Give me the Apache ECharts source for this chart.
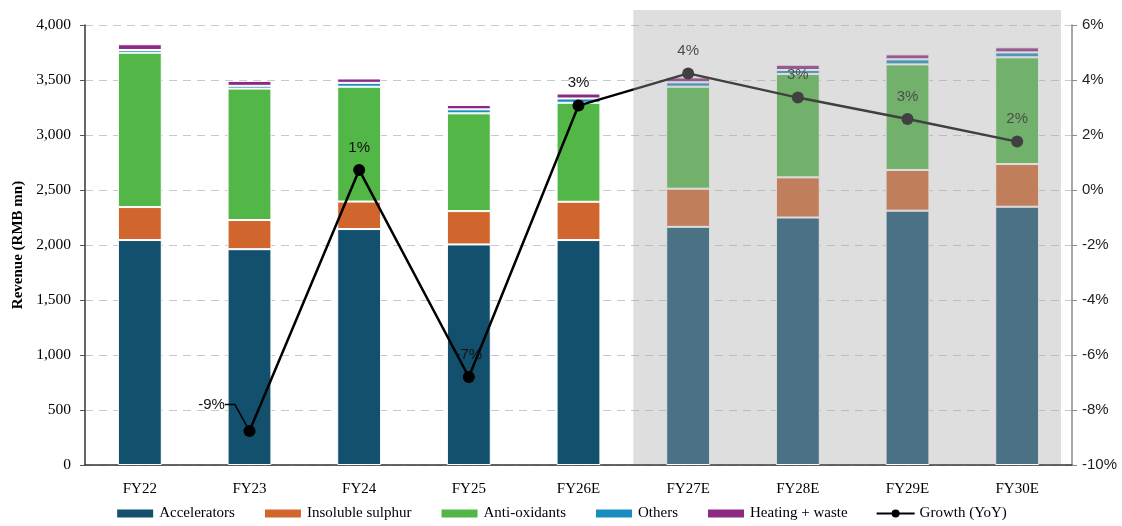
<!DOCTYPE html>
<html>
<head>
<meta charset="utf-8">
<script src="https://cdn.jsdelivr.net/npm/echarts@6/dist/echarts.min.js"></script>
<style>
  html, body { margin: 0; padding: 0; background: #fff; }
  #chart { width: 1122px; height: 526px; }
</style>
</head>
<body>
<div id="chart"></div>
<script>
// Revenue by segment (RMB mn) and year-on-year growth
const categories = ['FY22', 'FY23', 'FY24', 'FY25', 'FY26E', 'FY27E', 'FY28E', 'FY29E', 'FY30E'];
const accelerators = [2045, 1962, 2145, 2005, 2045, 2165, 2250, 2312, 2348];
const insolubleSulphur = [300, 265, 250, 303, 348, 347, 365, 370, 388];
const antiOxidants = [1403, 1195, 1044, 889, 900, 927, 940, 960, 970];
const others = [25, 25, 35, 36, 39, 40, 36, 46, 45];
const heatingWaste = [52, 45, 40, 40, 45, 45, 48, 45, 46];
const growth = [null, -8.76, 0.73, -6.8, 3.07, 4.24, 3.36, 2.58, 1.76];
const leftTicks = { min: 0, max: 4000, interval: 500 };
const rightTicks = { min: -10, max: 6, interval: 2 };
const forecastStart = 'FY27E';

const serif = '"Liberation Serif", "Times New Roman", serif';
const sans = '"Liberation Sans", Arial, sans-serif';

const chart = echarts.init(document.getElementById('chart'));

const barStyle = (color) => ({ color: color, borderColor: '#ffffff', borderWidth: 1 });
const barSeries = (name, data, color) => ({
  name: name,
  type: 'bar',
  stack: 'rev',
  barWidth: '40%',
  data: data,
  itemStyle: barStyle(color),
  emphasis: { disabled: true }
});

chart.setOption({
  animation: false,
  grid: { left: 85, right: 50, top: 25, bottom: 61, containLabel: false, outerBoundsMode: 'none' },
  legend: {
    bottom: 0,
    left: 'center',
    itemWidth: 38,
    itemHeight: 10,
    itemGap: 28,
    textStyle: { fontFamily: serif, fontSize: 15, color: '#000' },
    data: [
      { name: 'Accelerators', icon: 'rect' },
      { name: 'Insoluble sulphur', icon: 'rect' },
      { name: 'Anti-oxidants', icon: 'rect' },
      { name: 'Others', icon: 'rect' },
      { name: 'Heating + waste', icon: 'rect' },
      { name: 'Growth (YoY)' }
    ]
  },
  xAxis: {
    type: 'category',
    data: categories,
    axisLine: { lineStyle: { color: '#333', width: 1.5 } },
    axisTick: { show: false },
    axisLabel: { fontFamily: serif, fontSize: 15, color: '#000', margin: 17 }
  },
  yAxis: [
    {
      type: 'value',
      min: leftTicks.min, max: leftTicks.max, interval: leftTicks.interval,
      name: 'Revenue (RMB mn)',
      nameLocation: 'middle',
      nameGap: 58,
      nameTextStyle: { fontFamily: serif, fontSize: 15, fontWeight: 'bold', color: '#000' },
      axisLine: { show: true, lineStyle: { color: '#333', width: 1.5 } },
      axisTick: { show: true, length: 5, lineStyle: { color: '#555' } },
      axisLabel: {
        fontFamily: serif, fontSize: 15.5, color: '#000', margin: 14,
        formatter: (v) => v.toLocaleString('en-US')
      },
      splitLine: { show: true, lineStyle: { color: '#c8c8c8', type: [8, 6], width: 1.2 } }
    },
    {
      type: 'value',
      position: 'right',
      min: rightTicks.min, max: rightTicks.max, interval: rightTicks.interval,
      axisLine: { show: true, lineStyle: { color: '#8a8a8a', width: 1.5 } },
      axisTick: { show: true, inside: false, length: 5, lineStyle: { color: '#8a8a8a' } },
      axisLabel: { fontFamily: sans, fontSize: 15, color: '#222', margin: 10, formatter: (v) => v + '%' },
      splitLine: { show: false }
    }
  ],
  series: [
    barSeries('Accelerators', accelerators, '#13506e'),
    barSeries('Insoluble sulphur', insolubleSulphur, '#d0652d'),
    barSeries('Anti-oxidants', antiOxidants, '#52b747'),
    barSeries('Others', others, '#1a8cc0'),
    barSeries('Heating + waste', heatingWaste, '#8c2a82'),
    {
      name: 'Growth (YoY)',
      type: 'line',
      yAxisIndex: 1,
      data: growth.map((v, i) => i === 1
        ? { value: v, labelLine: { show: true, length2: 10, lineStyle: { color: '#000', width: 1.5 } } }
        : v),
      symbol: 'circle',
      symbolSize: 12,
      lineStyle: { color: '#000', width: 2.5 },
      itemStyle: { color: '#000' },
      z: 5,
      label: {
        show: true,
        position: 'top',
        distance: 9,
        fontFamily: sans,
        fontSize: 15,
        color: '#111',
        formatter: (p) => Math.round(p.value) + '%'
      },
      labelLayout: (p) => p.dataIndex === 1 ? { dx: -38, dy: -4 } : {},
      emphasis: { disabled: true }
    }
  ]
});

// Shade the forecast years with a translucent panel
function drawForecastPanel() {
  const i = categories.indexOf(forecastStart);
  const xPrev = chart.convertToPixel({ xAxisIndex: 0 }, categories[i - 1]);
  const xFirst = chart.convertToPixel({ xAxisIndex: 0 }, categories[i]);
  const xLast = chart.convertToPixel({ xAxisIndex: 0 }, categories[categories.length - 1]);
  const band = xFirst - xPrev;
  const yTop = chart.convertToPixel({ yAxisIndex: 0 }, leftTicks.max) - 15;
  const yBottom = chart.convertToPixel({ yAxisIndex: 0 }, leftTicks.min) - 1;
  const x0 = (xPrev + xFirst) / 2;
  const x1 = xLast + band * 0.4;
  chart.setOption({
    graphic: [{
      type: 'rect',
      silent: true,
      z: 100,
      shape: { x: x0, y: yTop, width: x1 - x0, height: yBottom - yTop },
      style: { fill: 'rgba(168,168,168,0.38)' }
    }]
  });
}
drawForecastPanel();
</script>
</body>
</html>
